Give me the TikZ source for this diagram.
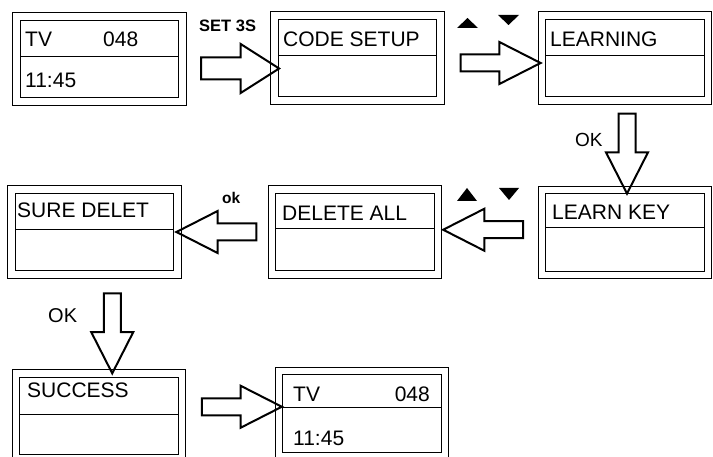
\documentclass[tikz,border=0pt]{standalone}
\usepackage{fontspec}
\setmainfont{Liberation Sans}
\usetikzlibrary{calc}
\usetikzlibrary{shapes.arrows}

\newcommand\lcdfont{\fontsize{21}{21}\selectfont}

\begin{document}
\begin{tikzpicture}[x=1pt,y=-1pt,
  lcd/.style={draw, double, double distance=6.5pt, line width=1pt,
    minimum width=166pt, minimum height=85pt, inner sep=0pt, outer sep=0pt},
  txt/.style={anchor=base west, inner sep=0pt, font=\lcdfont},
  blk/.style={single arrow, draw, line width=2pt, minimum height=80pt,
    inner xsep=0pt, inner ysep=7.5pt, text height=0pt, text depth=0pt,
    single arrow head extend=12.5pt, single arrow head indent=0pt,
    single arrow tip angle=54},
  lbl/.style={anchor=base west, inner sep=0pt}]
\useasboundingbox (0,0) rectangle (713,457);
\clip (0,0) rectangle (713,457);

% screens
\node [lcd] (tv1)   at (99.5,59)  {};
\node [lcd] (code)  at (357.5,58) {};
\node [lcd] (learn) at (625,58)   {};
\node [lcd] (key)   at (625,232.5) {};
\node [lcd] (del)   at (355,232)  {};
\node [lcd] (sure)  at (94.5,232) {};
\node [lcd] (succ)  at (99,416)   {};
\node [lcd] (tv2)   at (362,413.5) {};
\foreach \b/\d in {tv1/40, code/40, learn/40, key/38, del/39, sure/40, succ/41, tv2/36}
  \draw [line width=1pt] ($(\b.north west)+(4,\d)$) -- ($(\b.north east)+(-4,\d)$);

% screen texts
\node [txt] (tv1a) at (25,47) {TV};
\node [txt] (tv1b) at (103,47) {048};
\node [txt] (tv1c) at (25,88) {11:45};
\node [txt] (codea) at (283,47) {CODE SETUP};
\node [txt] (learna) at (550,47) {LEARNING};
\node [txt] (keya) at (552,220) {LEARN KEY};
\node [txt] (dela) at (282,221) {DELETE ALL};
\node [txt] (surea) at (17,218) {SURE DELET};
\node [txt] (succa) at (27,397) {SUCCESS};
\node [txt] (tv2a) at (293,402) {TV};
\node [txt, anchor=base east] (tv2b) at (430,402) {048};
\node [txt] (tv2c) at (293,445) {11:45};

% block arrows
\node [blk, minimum height=78pt, inner ysep=10pt, single arrow head extend=13.5pt,
  single arrow tip angle=65] (a1) at ($(tv1.east)!.5!(code.west)+(3,10)$) {};
\node [blk] (a2) at ($(code.east)!.5!(learn.west)+(1,5)$) {};
\node [blk, rotate=-90] (a3) at ($(learn.south)!.5!(key.north)+(2,0)$) {};
\node [blk, rotate=180] (a4) at ($(key.west)!.5!(del.east)+(1.5,-2.5)$) {};
\node [blk, rotate=180] (a5) at ($(del.west)!.5!(sure.east)$) {};
\node [blk, rotate=-90] (a6) at ($(sure.south)!.5!(succ.north)+(15.5,1)$) {};
\node [blk] (a7) at ($(succ.east)!.5!(tv2.west)+(3,-8)$) {};

% key labels
\node [lbl, font=\bfseries\fontsize{16.5}{16.5}\selectfont] (set) at (199,32) {SET 3S};
\node [lbl, font=\fontsize{19}{19}\selectfont] (ok1) at (575,147) {OK};
\node [lbl, font=\bfseries\fontsize{15.5}{15.5}\selectfont] (ok2) at (222,204) {ok};
\node [lbl, font=\fontsize{20}{20}\selectfont] (ok3) at (48,323) {OK};
\fill (457,28) -- (478,28) -- (467.5,18) -- cycle;
\fill (498,15) -- (519,15) -- (508.5,25) -- cycle;
\fill (457,201) -- (477,201) -- (467,188) -- cycle;
\fill (499,188) -- (519,188) -- (509,200) -- cycle;

\end{tikzpicture}
\end{document}
